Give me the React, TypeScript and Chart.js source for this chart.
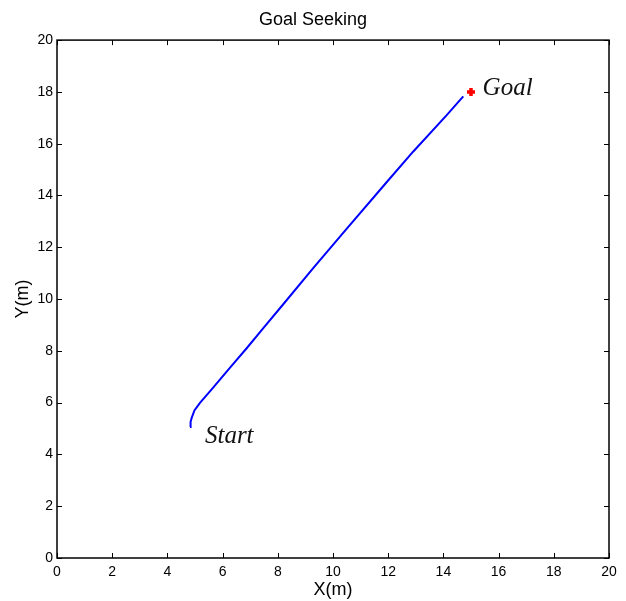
import React, { useEffect, useRef } from "react";
import { Chart, registerables } from "chart.js";

Chart.register(...registerables);

const pathX = [4.82, 4.84, 4.88, 4.98, 5.18, 5.65, 6.27, 6.88, 7.46, 8.19, 9.29, 10.5, 11.95, 12.91, 14.12, 14.72];
const pathY = [5.06, 5.26, 5.41, 5.7, 5.99, 6.57, 7.35, 8.11, 8.86, 9.79, 11.2, 12.72, 14.52, 15.7, 17.1, 17.83];
const goal = { x: 15, y: 18 };
const annotations = [
  { text: "Start", x: 5.36, y: 4.44 },
  { text: "Goal", x: 15.42, y: 17.88 },
];
const axisMin = 0;
const axisMax = 20;
const axisStep = 2;
const titleText = "Goal Seeking";
const xTitle = "X(m)";
const yTitle = "Y(m)";

const tickFont = { family: "'Liberation Sans Narrow', 'Arial Narrow', Arial, sans-serif", size: 14 };

const boxPlugin = {
  id: "matlabBox",
  afterDraw(chart: any) {
    const { ctx, chartArea } = chart;
    const { left, right, top, bottom } = chartArea;
    const xs = chart.scales.x;
    const ys = chart.scales.y;
    ctx.save();
    ctx.strokeStyle = "#000";
    ctx.lineWidth = 1;
    const tl = 5;
    ctx.beginPath();
    xs.ticks.forEach((t: any) => {
      const px = Math.round(xs.getPixelForValue(t.value)) + 0.5;
      ctx.moveTo(px, bottom);
      ctx.lineTo(px, bottom - tl);
      ctx.moveTo(px, top);
      ctx.lineTo(px, top + tl);
    });
    ys.ticks.forEach((t: any) => {
      const py = Math.round(ys.getPixelForValue(t.value)) + 0.5;
      ctx.moveTo(left, py);
      ctx.lineTo(left + tl, py);
      ctx.moveTo(right, py);
      ctx.lineTo(right - tl, py);
    });
    ctx.stroke();
    ctx.lineWidth = 1.5;
    ctx.strokeRect(left, top, right - left, bottom - top);
    ctx.fillStyle = "#111";
    ctx.font = "italic 25px 'Liberation Serif', 'Times New Roman', serif";
    ctx.textAlign = "left";
    ctx.textBaseline = "alphabetic";
    annotations.forEach((a) => {
      ctx.fillText(a.text, xs.getPixelForValue(a.x), ys.getPixelForValue(a.y));
    });
    ctx.restore();
  },
};

export default function App() {
  const ref = useRef<HTMLCanvasElement>(null);
  useEffect(() => {
    if (!ref.current) return;
    const chart = new Chart(ref.current, {
      type: "scatter",
      data: {
        datasets: [
          {
            data: pathX.map((x, i) => ({ x, y: pathY[i] })),
            showLine: true,
            borderColor: "#0000ff",
            borderWidth: 2,
            pointRadius: 0,
            tension: 0,
          },
          {
            data: [goal],
            pointStyle: "cross",
            pointRadius: 4,
            borderWidth: 3.5,
            borderColor: "#ff0000",
            backgroundColor: "#ff0000",
          },
        ],
      },
      plugins: [boxPlugin],
      options: {
        responsive: false,
        animation: false,
        layout: { padding: { left: 0, right: 0, top: 0, bottom: 0 } },
        plugins: {
          legend: { display: false },
          tooltip: { enabled: false },
          title: {
            display: true,
            text: titleText,
            color: "#000",
            font: { family: "'Liberation Sans', Arial, sans-serif", size: 18, weight: "normal" },
            padding: { top: 9, bottom: 9.5 },
          },
        },
        scales: {
          x: {
            type: "linear",
            min: axisMin,
            max: axisMax,
            grid: { display: false, drawTicks: false },
            border: { display: false },
            ticks: { stepSize: axisStep, color: "#000", font: tickFont, padding: 6, maxRotation: 0 },
            title: {
              display: true,
              text: xTitle,
              color: "#000",
              font: { family: "'Liberation Sans', Arial, sans-serif", size: 18 },
              padding: { top: 0, bottom: 0 },
            },
            afterFit(scale: any) {
              scale.height = 43;
            },
          },
          y: {
            type: "linear",
            min: axisMin,
            max: axisMax,
            grid: { display: false, drawTicks: false },
            border: { display: false },
            ticks: { stepSize: axisStep, color: "#000", font: tickFont, padding: 4 },
            title: {
              display: true,
              text: yTitle,
              color: "#000",
              font: { family: "'Liberation Sans', Arial, sans-serif", size: 18 },
              padding: { top: 12, bottom: 0 },
            },
            afterFit(scale: any) {
              scale.width = 57;
            },
          },
          y2: {
            type: "linear",
            position: "right",
            min: axisMin,
            max: axisMax,
            grid: { display: false, drawTicks: false },
            border: { display: false },
            ticks: { display: false },
            afterFit(scale: any) {
              scale.width = 17;
            },
          },
        },
      },
    });
    return () => chart.destroy();
  }, []);
  return (
    <div style={{ position: "absolute", left: 0, top: 0, width: 626, height: 601, background: "#fff" }}>
      <canvas ref={ref} width={626} height={601} style={{ display: "block" }} />
    </div>
  );
}
